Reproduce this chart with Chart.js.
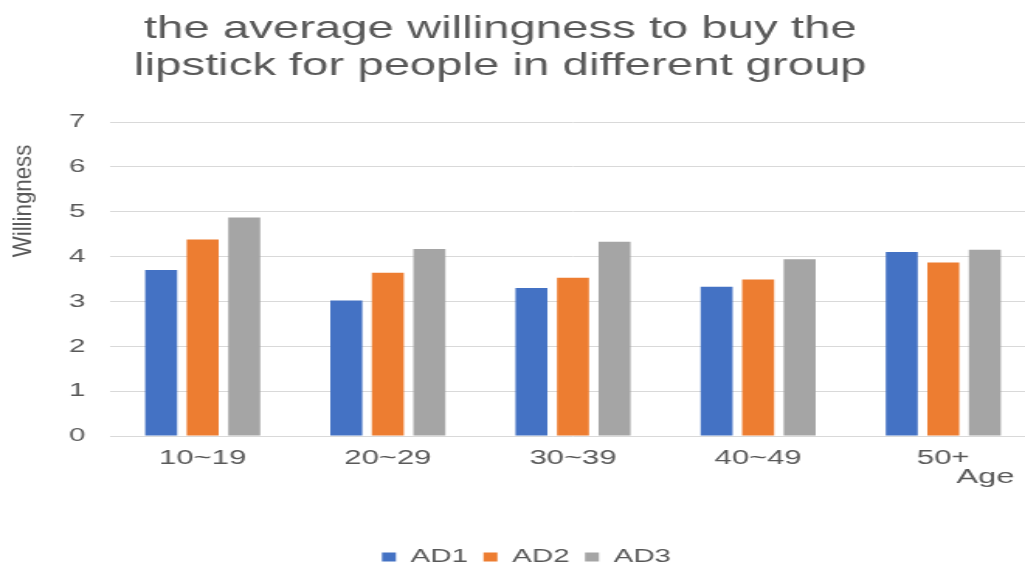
<!DOCTYPE html>
<html>
<head>
<meta charset="utf-8">
<script src="https://cdn.jsdelivr.net/npm/chart.js@4.4.1/dist/chart.umd.min.js"></script>
<style>
  html, body { margin: 0; padding: 0; background: #ffffff; overflow: hidden; }
  /* the chart is laid out on a narrower canvas and widened to the page;
     the plot runs slightly past the right edge of the page */
  #wrap { position: absolute; left: 0; top: 0; width: 668px; height: 569px;
          transform: scaleX(1.5507); transform-origin: 0 0; }
</style>
</head>
<body>
<div id="wrap"><canvas id="c"></canvas></div>
<script>
const titleLines = ['the average willingness to buy the', 'lipstick for people in different group'];
const yTitle = 'Willingness';
const xTitle = 'Age';
const ageGroups = ['10~19', '20~29', '30~39', '40~49', '50+'];
const seriesNames = ['AD1', 'AD2', 'AD3'];
const ad1 = [3.70, 3.02, 3.30, 3.33, 4.10];
const ad2 = [4.38, 3.64, 3.53, 3.49, 3.87];
const ad3 = [4.87, 4.17, 4.33, 3.94, 4.15];
const yTicks = [0, 1, 2, 3, 4, 5, 6, 7];

const TEXT = '#595959';
const FAMILY = "'Liberation Sans', Arial, sans-serif";
Chart.defaults.font.family = FAMILY;
Chart.defaults.color = TEXT;

// title, rotated y-axis name and the "Age" caption
const captions = {
  id: 'captions',
  afterDraw(chart) {
    const ctx = chart.ctx;
    ctx.save();
    ctx.fillStyle = TEXT;
    ctx.font = '30.5px ' + FAMILY;
    ctx.textAlign = 'center';
    ctx.textBaseline = 'alphabetic';
    ctx.fillText(titleLines[0], 322.6, 38);
    ctx.fillText(titleLines[1], 322.6, 75);

    ctx.font = '21px ' + FAMILY;
    ctx.fillText(xTitle, 635.5, 483);

    ctx.translate(15.8, 201);
    ctx.rotate(-Math.PI / 2);
    ctx.scale(1.31, 1);
    ctx.font = '17px ' + FAMILY;
    ctx.textBaseline = 'middle';
    ctx.fillText(yTitle, 0, 0);
    ctx.restore();
  }
};

// nudge the legend row to its place under the plot
const legendPlacement = {
  id: 'legendPlacement',
  afterLayout(chart) {
    const lg = chart.legend;
    const dy = 7.5, dx = 5.5;
    lg.top += dy; lg.bottom += dy;
    lg.left += dx; lg.right += dx;
  }
};

const colors = ['#4472C4', '#ED7D31', '#A5A5A5'];
const values = [ad1, ad2, ad3];

new Chart(document.getElementById('c'), {
  type: 'bar',
  data: {
    labels: ageGroups,
    datasets: seriesNames.map((name, i) => ({
      label: name,
      data: values[i],
      backgroundColor: colors[i],
      borderWidth: 0,
      categoryPercentage: 0.673,
      barPercentage: 0.77
    }))
  },
  options: {
    responsive: true,
    maintainAspectRatio: false,
    animation: false,
    events: [],
    layout: { padding: { top: 122, left: 0, right: 0, bottom: 0 } },
    plugins: {
      title: { display: false },
      tooltip: { enabled: false },
      legend: {
        position: 'bottom',
        align: 'center',
        labels: {
          boxWidth: 9,
          boxHeight: 9,
          padding: 10,
          color: TEXT,
          font: { size: 19 }
        }
      }
    },
    scales: {
      x: {
        grid: { display: false, drawTicks: false },
        border: { display: false },
        ticks: { color: TEXT, font: { size: 20 }, padding: 10, maxRotation: 0 },
        afterFit(scale) { scale.height = 94; }
      },
      y: {
        min: 0,
        max: 7,
        grid: { color: '#d9d9d9', lineWidth: 1, drawTicks: false },
        border: { display: false },
        ticks: { color: TEXT, font: { size: 19 }, padding: 16 },
        afterBuildTicks(scale) { scale.ticks = yTicks.map(v => ({ value: v })); },
        afterFit(scale) { scale.width = 71; }
      }
    }
  },
  plugins: [captions, legendPlacement]
});
</script>
</body>
</html>
